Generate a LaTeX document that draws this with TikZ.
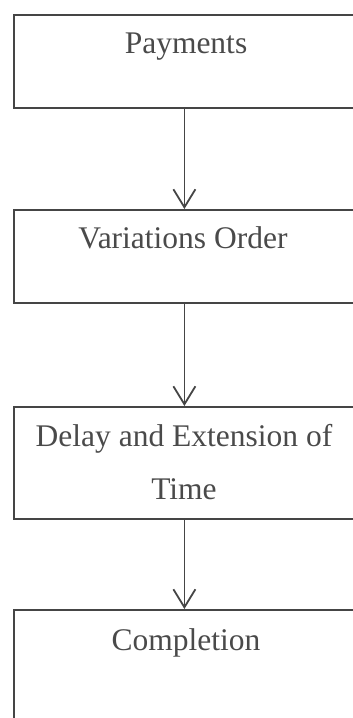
\documentclass[tikz,border=0pt]{standalone}
\usepackage{fontspec}
\setmainfont{Liberation Serif}
\usetikzlibrary{arrows.meta}
\definecolor{inkgray}{HTML}{454545}
\definecolor{textgray}{HTML}{4A4A4A}
\tikzset{
   stagebox/.style = {draw=inkgray, line width=1.8pt, rectangle, inner sep=0pt,
                      minimum width=341pt, anchor=north west},
   stagetext/.style = {text=textgray, inner sep=0pt, align=center,
                       font=\fontsize{31.5}{53}\selectfont},
   flowarrow/.style = {draw=inkgray, line width=1.8pt,
                       -{Straight Barb[length=18pt,width=22pt,line width=1.8pt]}}
}
\begin{document}
\begin{tikzpicture}[x=1pt, y=-1pt]
   \useasboundingbox (0,0) rectangle (353,718);
   \clip (0,0) rectangle (353,718);
   % boxes
   \node[stagebox, minimum height=93pt]  (pay)  at (13,14)  {};
   \node[stagebox, minimum height=93pt]  (var)  at (13,209) {};
   \node[stagebox, minimum height=112pt] (del)  at (13,406) {};
   \node[stagebox, minimum height=140pt] (comp) at (13,609) {};
   % texts
   \node[stagetext, anchor=base] (paytext)  at (186,53)  {Payments};
   \node[stagetext, anchor=base] (vartext)  at (183,248) {Variations Order};
   \node[stagetext, anchor=north] (deltext) at (184,424) {Delay and Extension of\\Time};
   \node[stagetext, anchor=base] (comptext) at (186,650) {Completion};
   % arrows
   \draw[flowarrow] (pay.south) -- (var.north);
   \draw[flowarrow] (var.south) -- (del.north);
   \draw[flowarrow] (del.south) -- (comp.north);
\end{tikzpicture}
\end{document}
